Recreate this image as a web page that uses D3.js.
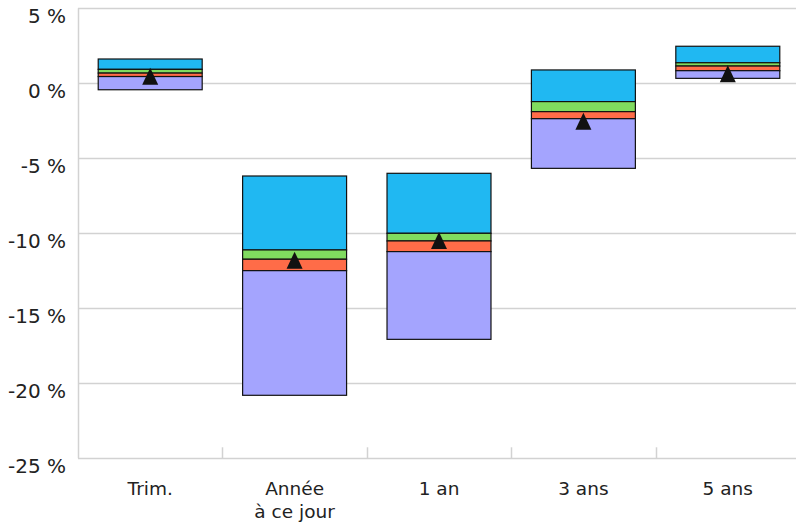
<!DOCTYPE html>
<html>
<head>
<meta charset="utf-8">
<script src="https://cdn.jsdelivr.net/npm/d3@7"></script>
<style>
  html, body { margin: 0; padding: 0; background: #fff; }
  svg { display: block; }
  text { font-family: "DejaVu Sans", sans-serif; fill: #222; }
</style>
</head>
<body>
<script>
// ---- data ----
const categories = ["Trim.", "Année\nà ce jour", "1 an", "3 ans", "5 ans"];
const topEdge     = [1.62, -6.18, -6.00,  0.89, 2.47];
const blueBottom  = [0.93, -11.11, -10.00, -1.22, 1.37];
const greenBottom = [0.68, -11.73, -10.51, -1.89, 1.15];
const redBottom   = [0.45, -12.49, -11.22, -2.36, 0.84];
const bottomEdge  = [-0.43, -20.80, -17.07, -5.67, 0.33];
const marker      = [0.47, -11.79, -10.48, -2.53, 0.64];
const yTicks = [5, 0, -5, -10, -15, -20, -25];
const colors = { blue: "#20b8f2", green: "#80db5f", red: "#ff6c48", purple: "#a4a4fe" };

const W = 796, H = 528;
const mLeft = 78, mRight = 800, mTop = 8.3, mBottom = 458.3;

const svg = d3.select("body").append("svg").attr("width", W).attr("height", H);

const y = d3.scaleLinear().domain([-25, 5]).range([mBottom, mTop]);
const x = d3.scaleBand().domain(categories).range([mLeft, mRight]).padding(0);
const barW = x.bandwidth() * 0.72;

// gridlines
svg.append("g").selectAll("line").data(yTicks).join("line")
  .attr("x1", mLeft).attr("x2", W)
  .attr("y1", d => Math.round(y(d)) + 0.5).attr("y2", d => Math.round(y(d)) + 0.5)
  .attr("stroke", "#d2d2d2").attr("stroke-width", 1.5);

// left axis line
svg.append("line")
  .attr("x1", mLeft + 0.5).attr("x2", mLeft + 0.5)
  .attr("y1", y(5)).attr("y2", y(-25))
  .attr("stroke", "#d2d2d2").attr("stroke-width", 1.5);

// bottom category separator ticks
const seps = categories.slice(1).map(c => x(c));
svg.append("g").selectAll("line").data(seps).join("line")
  .attr("x1", d => Math.round(d) + 0.5).attr("x2", d => Math.round(d) + 0.5)
  .attr("y1", y(-25) - 11).attr("y2", y(-25))
  .attr("stroke", "#d2d2d2").attr("stroke-width", 1.5);

// y labels
svg.append("g").selectAll("text").data(yTicks).join("text")
  .attr("x", 66).attr("y", d => y(d) + 14.5)
  .attr("text-anchor", "end").attr("font-size", 20)
  .text(d => d + " %");

// bars
const segs = [];
categories.forEach((c, i) => {
  segs.push({ c, hi: topEdge[i], lo: blueBottom[i], col: colors.blue });
  segs.push({ c, hi: blueBottom[i], lo: greenBottom[i], col: colors.green });
  segs.push({ c, hi: greenBottom[i], lo: redBottom[i], col: colors.red });
  segs.push({ c, hi: redBottom[i], lo: bottomEdge[i], col: colors.purple });
});
svg.append("g").selectAll("rect").data(segs).join("rect")
  .attr("x", d => x(d.c) + (x.bandwidth() - barW) / 2)
  .attr("width", barW)
  .attr("y", d => y(d.hi))
  .attr("height", d => y(d.lo) - y(d.hi))
  .attr("fill", d => d.col)
  .attr("stroke", "#111").attr("stroke-width", 1.2);

// markers
svg.append("g").selectAll("path").data(categories).join("path")
  .attr("transform", (c, i) => `translate(${x(c) + x.bandwidth() / 2},${y(marker[i])})`)
  .attr("d", "M0,-8.5L8,8.5L-8,8.5Z")
  .attr("fill", "#111");

// category labels
const lab = svg.append("g").selectAll("text").data(categories).join("text")
  .attr("x", c => x(c) + x.bandwidth() / 2)
  .attr("y", 495)
  .attr("text-anchor", "middle").attr("font-size", 18.5);
lab.each(function (c) {
  const t = d3.select(this);
  c.split("\n").forEach((line, k) => {
    t.append("tspan").attr("x", x(c) + x.bandwidth() / 2).attr("dy", k === 0 ? 0 : 23).text(line);
  });
});
</script>
</body>
</html>
